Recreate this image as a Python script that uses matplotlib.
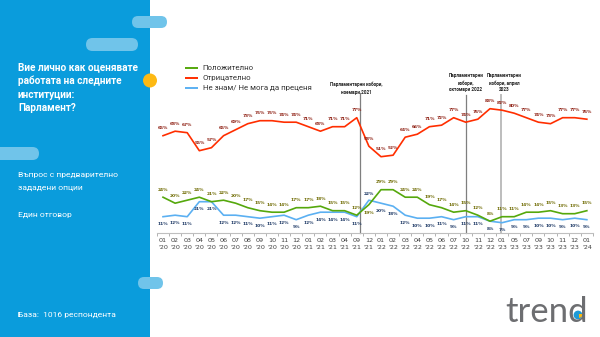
import matplotlib
matplotlib.use("Agg")
import matplotlib.pyplot as plt
from matplotlib.patches import FancyBboxPatch, Rectangle, Circle, Wedge

# Survey waves (month / year)
months = ["01", "02", "03", "04", "05", "06", "07", "08", "09", "10", "11", "12",
          "01", "02", "03", "04", "09", "12",
          "01", "02", "03", "04", "05", "06", "07", "10", "11", "12",
          "01", "05", "07", "09", "10", "11", "12",
          "01"]
years = ["20"] * 12 + ["21"] * 6 + ["22"] * 10 + ["23"] * 7 + ["24"]

# Shares of answers, %
positive = [24, 20, 22, 24, 21, 22, 20, 17, 15, 14, 14, 17,
            17, 18, 15, 15, 12, 19, 29, 29, 24, 24, 19, 17,
            14, 15, 12, 8, 11, 11, 14, 14, 15, 13, 13, 15]
negative = [65, 68, 67, 55, 57, 65, 69, 73, 75, 75, 74, 74,
            71, 68, 71, 71, 77, 58, 51, 52, 64, 66, 71, 72,
            77, 74, 76, 83, 82, 80, 77, 74, 73, 77, 77, 76]
unsure = [11, 12, 11, 21, 21, 12, 12, 11, 10, 11, 12, 9,
          12, 14, 14, 14, 11, 22, 20, 18, 12, 10, 10, 11,
          9, 11, 11, 8, 7, 9, 9, 10, 10, 9, 10, 9]

series_names = ["Положително", "Отрицателно", "Не знам/ Не мога да преценя"]

# Election markers: (position on the wave axis, caption lines)
events = [(16.3, ["Парламентарни избори,", "ноември 2021"]),
          (25.0, ["Парламентарни", "избори,", "октомври 2022"]),
          (27.95, ["Парламентарни", "избори, април", "2023"])]

C_POS, C_NEG, C_UNS = "#55A80C", "#FF2E00", "#5BB0F2"
L_POS, L_NEG, L_UNS = "#6E6A00", "#8E1F12", "#1F3A66"
PANEL = "#0A9CDC"
PILL = "#70C4EA"

fig = plt.figure(figsize=(6, 3.37), dpi=100)

# Background canvas in pixel units
bg = fig.add_axes([0, 0, 1, 1], zorder=0)
bg.set_xlim(0, 600)
bg.set_ylim(337, 0)
bg.axis("off")
bg.add_patch(Rectangle((0, 0), 150, 337, color=PANEL, lw=0))


def pill(x0, y0, x1, y1):
    h = y1 - y0
    bg.add_patch(FancyBboxPatch((x0, y0), x1 - x0, h,
                                boxstyle=f"round,pad=0,rounding_size={h / 2}",
                                fc=PILL, ec="none"))


pill(132, 16, 167, 28)
pill(86, 38, 138, 51)
pill(-20, 147, 39, 160)
pill(138, 277, 163, 289)
bg.add_patch(Circle((150, 80.5), 7, color="#FDB913", lw=0))

title_lines = ["Вие лично как оценявате", "работата на следните",
               "институции:", "Парламент?"]
for i, t in enumerate(title_lines):
    bg.text(18, 67.7 + 13.5 * i, t, color="white", fontsize=7.2,
            fontweight="bold", family="Roboto", va="center", ha="left")

for y, t in [(174.7, "Въпрос с предварително"), (187.7, "зададени опции"),
             (214.7, "Един отговор"), (315, "База:  1016 респондента")]:
    bg.text(18, y, t, color="white", fontsize=6.1, family="Roboto",
            va="center", ha="left")

# Legend
for y, c, name in [(68.3, C_POS, series_names[0]),
                   (78.3, C_NEG, series_names[1]),
                   (87.7, C_UNS, series_names[2])]:
    bg.plot([185, 198], [y, y], color=c, lw=1.4, solid_capstyle="butt")
    bg.text(202.7, y, name, fontsize=5.7, color="#333333", family="Roboto",
            va="center", ha="left")

# Logo
bg.text(547, 312, "trend", fontsize=25, color="#6D6E71", family="Lato",
        fontweight="normal", ha="center", va="center")
bg.add_patch(Circle((578, 315), 4.4, color="#1E9AD6", lw=0))
bg.add_patch(Wedge((579, 314), 3.8, 0, 90, color="#FDB913", lw=0))

# Main chart
x0_px, y0_px, step, ppp = 163.0, 233.2, 12.11, 1.5
ax = fig.add_axes([(x0_px - step / 2) / 600, (337 - y0_px) / 337,
                   step * 36 / 600, 100 * ppp / 337], zorder=1)
ax.patch.set_alpha(0)
ax.set_xlim(-0.5, 35.5)
ax.set_ylim(0, 100)
x = list(range(len(months)))

ax.plot(x, unsure, color=C_UNS, lw=1.2, zorder=3)
ax.plot(x, positive, color=C_POS, lw=1.2, zorder=3)
ax.plot(x, negative, color=C_NEG, lw=1.2, zorder=3)

lab_kw = dict(fontsize=3.2, fontweight="bold", family="DejaVu Sans",
              ha="center", va="center", textcoords="offset points")
for i, v in enumerate(negative):
    ax.annotate(f"{v}%", (i, v), xytext=(0, 5.4), color=L_NEG, **lab_kw)
for i, v in enumerate(positive):
    dy = -6.3 if i == 17 else 5.4
    ax.annotate(f"{v}%", (i, v), xytext=(0, dy), color=L_POS, **lab_kw)
for i, v in enumerate(unsure):
    dy = 4.5 if i == 17 else -5.4
    ax.annotate(f"{v}%", (i, v), xytext=(0, dy), color=L_UNS, **lab_kw)

# Election markers
tops = [93.5, 92.1, 92.1]
for k, (pos, lines) in enumerate(events):
    col = "#BDBDBD" if k == 2 else "#7F7F7F"
    lw = 1.4 if k == 2 else 0.9
    ax.plot([pos, pos], [0, tops[k]], color=col, lw=lw, zorder=2,
            clip_on=False)
    if k == 0:
        ys = [99.5, 94.1]
        cx = pos - 0.35
    else:
        ys = [104.8, 100.3, 96.1]
        cx = pos + (0.25 if k == 2 else 0)
    for yy, t in zip(ys, lines):
        ax.text(cx, yy, t, fontsize=3.3, fontweight="bold", color="#222222",
                family="Roboto", ha="center", va="center", clip_on=False)

for s in ["left", "right", "top"]:
    ax.spines[s].set_visible(False)
ax.spines["bottom"].set_color("#BFBFBF")
ax.spines["bottom"].set_linewidth(0.8)
ax.set_yticks([])
ax.set_xticks(x)
ax.set_xticklabels([f"{m}\n'{y}" for m, y in zip(months, years)],
                   fontsize=4.6, color="#404040", family="DejaVu Sans",
                   linespacing=1.45)
ax.tick_params(axis="x", which="major", length=0, pad=3.6)
ax.set_xticks([i - 0.5 for i in range(37)], minor=True)
ax.tick_params(axis="x", which="minor", length=2.2, color="#A6A6A6",
               width=0.6)

fig.savefig("out.png", dpi=100)
